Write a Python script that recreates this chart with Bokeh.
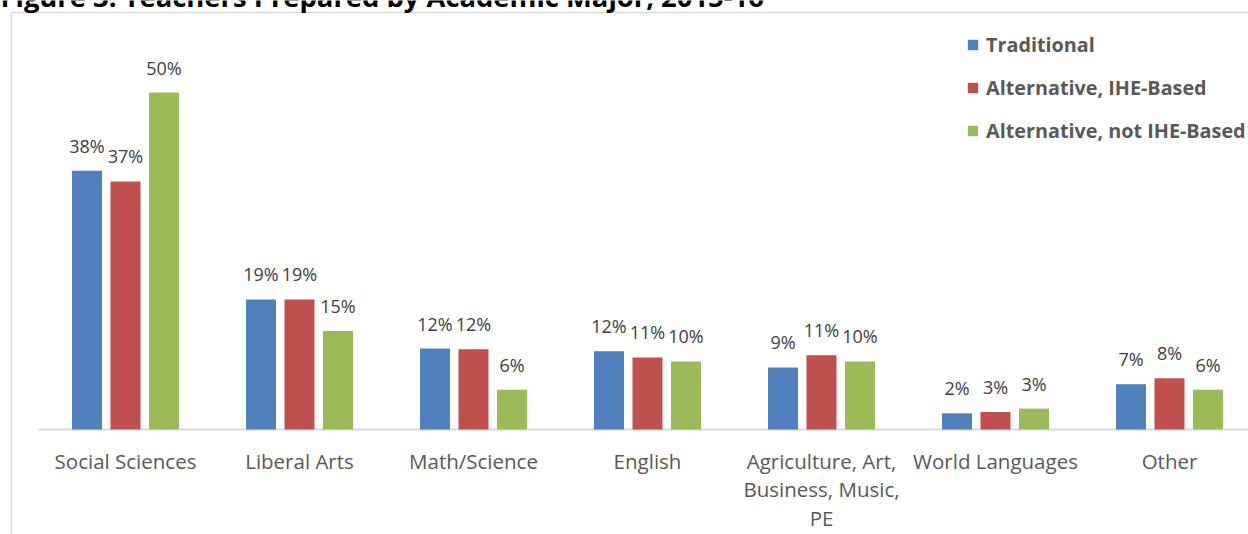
from bokeh.plotting import figure
from bokeh.models import Range1d, Legend, LegendItem, ColumnDataSource
from bokeh.core.properties import value
from bokeh.embed import file_html
from bokeh.resources import INLINE

# ---- data ----
title = "Figure 3: Teachers Prepared by Academic Major, 2015-16"
categories = ["Social Sciences", "Liberal Arts", "Math/Science", "English",
              "Agriculture, Art,\nBusiness, Music,\nPE", "World Languages", "Other"]
series_names = ["Traditional", "Alternative, IHE-Based", "Alternative, not IHE-Based"]
traditional = [38.4, 19.3, 12.0, 11.6, 9.2, 2.4, 6.7]
alt_ihe = [36.8, 19.3, 11.9, 10.7, 11.0, 2.6, 7.6]
alt_not_ihe = [50.0, 14.6, 5.9, 10.1, 10.1, 3.1, 5.9]
colors = ["#4F81BD", "#C0504D", "#9BBB59"]

# ---- layout helpers (pixel -> data) ----
W, H = 1248, 534
PX_PER_CAT = 174.0
X0_PX = 38.0
PX_PER_PCT = 6.74
Y0_PX = 429.0


def dx(px):
    return (px - X0_PX) / PX_PER_CAT


def dy(py):
    return (Y0_PX - py) / PX_PER_PCT


FONT = "Open Sans"
p = figure(width=W, height=H, output_backend="svg", toolbar_location=None,
           x_range=Range1d(dx(0), dx(W)), y_range=Range1d(dy(H), dy(0)),
           x_axis_location=None, y_axis_location=None, min_border=0)
p.grid.visible = False
p.outline_line_color = None
p.background_fill_color = "white"
p.border_fill_color = "white"

# chart border (left and top visible)
border_c = "#D9D9D9"
p.segment(x0=[dx(11), dx(11)], y0=[dy(12), dy(12)], x1=[dx(11), dx(W + 5)], y1=[dy(H + 5), dy(12)],
          line_color=border_c, line_width=1.5)

# category axis line
p.segment(x0=[0], y0=[0], x1=[len(categories)], y1=[0], line_color=border_c, line_width=2)

bar_w = 30 / PX_PER_CAT
step = 38.5 / PX_PER_CAT
offsets = [-step, 0, step]
renderers = []
for vals, off, col in zip([traditional, alt_ihe, alt_not_ihe], offsets, colors):
    xs = [i + 0.5 + off for i in range(len(categories))]
    src = ColumnDataSource(dict(x=xs, top=vals, lab=[f"{round(v)}%" for v in vals]))
    r = p.vbar(x="x", top="top", width=bar_w, bottom=0, source=src, fill_color=col, line_color=None)
    renderers.append(r)
    p.text(x="x", y="top", text="lab", source=src, text_font=value(FONT), text_font_size="18px",
           text_color="#404040", text_align="center", text_baseline="alphabetic", y_offset=-25)

# category labels
csrc = ColumnDataSource(dict(x=[i + 0.5 for i in range(len(categories))],
                             y=[dy(446)] * len(categories), t=categories))
p.text(x="x", y="y", text="t", source=csrc, text_font=value(FONT), text_font_size="20.5px",
       text_color="#595959", text_align="center", text_baseline="top", text_line_height=1.03)

# title (cut off at the top of the picture, as in the reference)
p.text(x=[dx(0)], y=[dy(-4)], text=[title], text_font=value(FONT), text_font_size="27.4px",
       text_font_style="bold", text_color="#000000", text_align="left", text_baseline="alphabetic")

legend = Legend(items=[LegendItem(label=n, renderers=[r]) for n, r in zip(series_names, renderers)],
                location=(966, 390), orientation="vertical", padding=0, margin=0,
                spacing=16, label_height=26, glyph_height=13, glyph_width=13, label_standoff=7,
                label_text_font=FONT, label_text_font_size="19.8px", label_text_font_style="bold",
                label_text_color="#595959", border_line_color=None, background_fill_alpha=0)
p.add_layout(legend)

open("out.html", "w").write(file_html(p, INLINE))
